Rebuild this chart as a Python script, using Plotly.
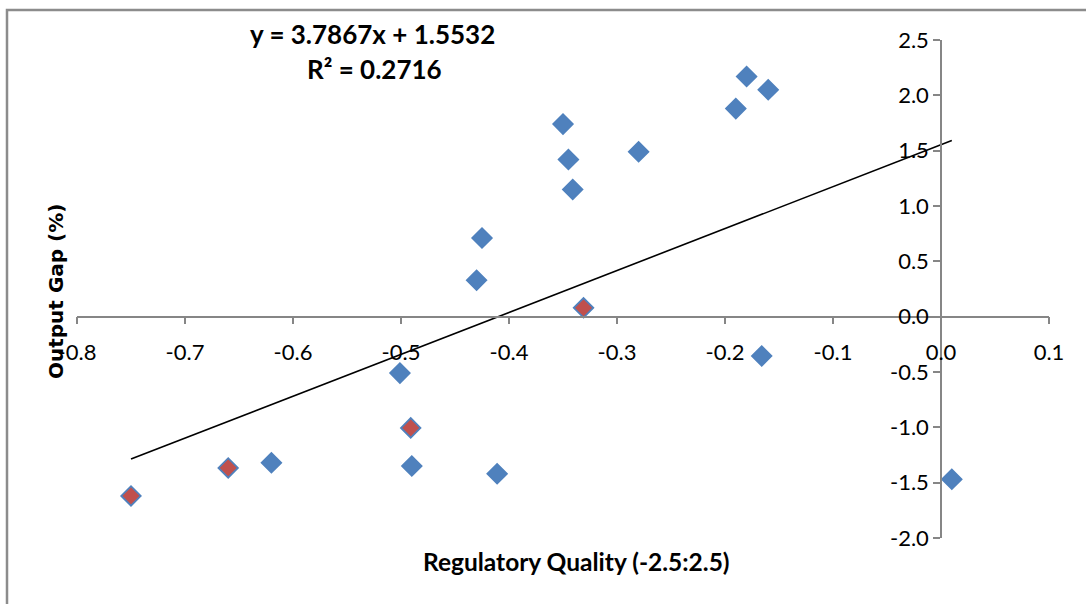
import plotly.graph_objects as go

# ---- data ----
reg_quality = [-0.75, -0.66, -0.62, -0.501, -0.491, -0.49, -0.411, -0.43, -0.425,
               -0.35, -0.345, -0.341, -0.331, -0.28, -0.19, -0.18, -0.16, -0.166, 0.01]
output_gap = [-1.62, -1.367, -1.32, -0.51, -1.005, -1.35, -1.42, 0.33, 0.71,
              1.74, 1.42, 1.15, 0.08, 1.49, 1.88, 2.17, 2.05, -0.355, -1.47]
highlight = [True, True, False, False, True, False, False, False, False,
             False, False, False, True, False, False, False, False, False, False]

slope = 3.7867
intercept = 1.5532
r_squared = 0.2716

x_tickvals = [-0.8, -0.7, -0.6, -0.5, -0.4, -0.3, -0.2, -0.1, 0.0, 0.1]
x_ticktext = ["-0.8", "-0.7", "-0.6", "-0.5", "-0.4", "-0.3", "-0.2", "-0.1", "0.0", "0.1"]
y_tickvals = [-2.0, -1.5, -1.0, -0.5, 0.0, 0.5, 1.0, 1.5, 2.0, 2.5]
y_ticktext = ["-2.0", "-1.5", "-1.0", "-0.5", "0.0", "0.5", "1.0", "1.5", "2.0", "2.5"]

X_RANGE = [-0.8, 0.1]
Y_RANGE = [-2.0, 2.5]

W, H = 1086, 604
ML, MR, MT, MB = 77, 37, 40, 66
PW, PH = W - ML - MR, H - MT - MB


def px(xp):
    return (xp - ML) / PW


def py(yp):
    return (H - MB - yp) / PH


BLUE = "#4F81BD"
RED = "#C0504D"
AXIS = "#868686"

fig = go.Figure()

fill_colors = [RED if h else BLUE for h in highlight]
fig.add_trace(go.Scatter(
    x=reg_quality, y=output_gap, mode="markers",
    marker=dict(symbol="diamond", size=15, color=fill_colors,
                line=dict(color=BLUE, width=1.8)),
    showlegend=False, hoverinfo="x+y",
))

x_lo, x_hi = min(reg_quality), max(reg_quality)
fig.add_trace(go.Scatter(
    x=[x_lo, x_hi], y=[slope * x_lo + intercept, slope * x_hi + intercept],
    mode="lines", line=dict(color="black", width=1.6),
    showlegend=False, hoverinfo="skip",
))

x_cross = (0 - X_RANGE[0]) / (X_RANGE[1] - X_RANGE[0])
y_cross = (0 - Y_RANGE[0]) / (Y_RANGE[1] - Y_RANGE[0])

tick_font = dict(family="Lato, sans-serif", size=22, color="black")

fig.update_layout(
    width=W, height=H,
    margin=dict(l=ML, r=MR, t=MT, b=MB),
    paper_bgcolor="white", plot_bgcolor="white",
    xaxis=dict(range=X_RANGE, tickvals=x_tickvals, ticktext=x_ticktext,
               anchor="free", position=y_cross, showgrid=False, zeroline=False,
               showline=True, linecolor=AXIS, linewidth=1.5,
               ticks="outside", ticklen=7, tickcolor=AXIS, tickwidth=1.5,
               ticklabelstandoff=9, tickfont=tick_font),
    yaxis=dict(range=Y_RANGE, tickvals=y_tickvals, ticktext=y_ticktext,
               anchor="free", position=x_cross, showgrid=False, zeroline=False,
               showline=True, linecolor=AXIS, linewidth=1.5,
               ticks="outside", ticklen=7, tickcolor=AXIS, tickwidth=1.5,
               tickfont=tick_font),
    shapes=[dict(type="rect", xref="paper", yref="paper",
                 x0=px(7), x1=px(1100), y0=py(620), y1=py(10),
                 line=dict(color="#8C8C8C", width=2.5), fillcolor="rgba(0,0,0,0)",
                 layer="below")],
    annotations=[
        dict(text=f"<b>y = {slope}x + {intercept}</b>", xref="paper", yref="paper",
             x=px(372), y=py(34), xanchor="center", yanchor="middle", showarrow=False,
             font=dict(family="Lato, sans-serif", size=26, color="black")),
        dict(text=f"<b>R² = {r_squared}</b>", xref="paper", yref="paper",
             x=px(374), y=py(69), xanchor="center", yanchor="middle", showarrow=False,
             font=dict(family="Lato, sans-serif", size=26, color="black")),
        dict(text="<b>Regulatory Quality (-2.5:2.5)</b>", xref="paper", yref="paper",
             x=px(576), y=py(561), xanchor="center", yanchor="middle", showarrow=False,
             font=dict(family="Lato, sans-serif", size=24.5, color="black")),
        dict(text="<b>Output Gap (%)</b>", xref="paper", yref="paper",
             x=px(56), y=py(292), xanchor="center", yanchor="middle", showarrow=False,
             textangle=-90,
             font=dict(family="DejaVu Sans, sans-serif", size=20, color="black")),
    ],
)

fig.write_html("out.html")
